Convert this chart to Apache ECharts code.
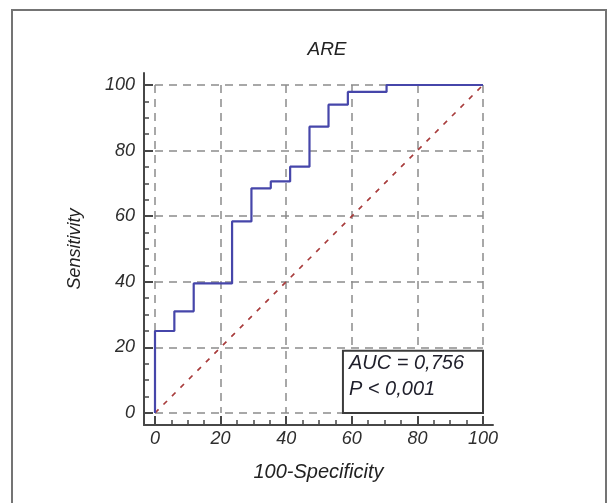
<!DOCTYPE html>
<html>
<head>
<meta charset="utf-8">
<script src="https://cdn.jsdelivr.net/npm/echarts@6/dist/echarts.min.js"></script>
<style>
html,body{margin:0;padding:0;background:#fff;}
#chart{width:607px;height:503px;}
</style>
</head>
<body>
<div id="chart"></div>
<script>
// ROC curve data (100-Specificity, Sensitivity)
const fpr = [0, 5.9, 11.8, 23.5, 29.4, 35.3, 41.2, 47.1, 52.9, 58.8, 70.6, 100];
const tpr = [0, 25, 31, 39.5, 58.4, 68.5, 70.6, 75.1, 87.3, 94, 97.9, 100];
const refX = [0, 100];
const refY = [0, 100];
const majorTicks = [0, 20, 40, 60, 80, 100];
const minorTicks = [5, 10, 15, 25, 30, 35, 45, 50, 55, 65, 70, 75, 85, 90, 95];
const chartTitle = 'ARE';
const xName = '100-Specificity';
const yName = 'Sensitivity';
const statLines = ['AUC = 0,756', 'P < 0,001'];
const boxFrom = [57.3, 0];
const boxTo = [100, 19];

const FONT = '"Liberation Sans", Arial, sans-serif';
const W = 607, H = 503;
// data plot area
const P = {left: 155, right: 124, top: 85, bottom: 90};
// axis frame (axis lines detached from plot)
const A = {left: 144, right: 114, top: 73, bottom: 78};
const pw = W - P.left - P.right, ph = H - P.top - P.bottom;
const xMin1 = -(P.left - A.left) * 100 / pw;
const xMax1 = 100 + (P.right - A.right) * 100 / pw;
const yMin1 = -(P.bottom - A.bottom) * 100 / ph;
const yMax1 = 100 + (P.top - A.top) * 100 / ph;

const chart = echarts.init(document.getElementById('chart'), null, {renderer: 'canvas'});

const rocData = fpr.map((x, i) => [x, tpr[i]]);
const refData = refX.map((x, i) => [x, refY[i]]);

const axisGray = '#474747';
const gridDash = {color: '#8c8c8c', width: 1.5, type: [8, 6]};
const labelStyle = {color: '#2e2e2e', fontSize: 18, fontStyle: 'italic', fontFamily: FONT};

chart.setOption({
  animation: false,
  backgroundColor: '#fff',
  graphic: [
    {type: 'rect', shape: {x: 12, y: 10, width: 594, height: 530}, style: {fill: 'none', stroke: '#747474', lineWidth: 2}, silent: true},
    {type: 'text', x: 327, y: 50, style: {text: chartTitle, align: 'center', verticalAlign: 'middle', font: 'italic 19px ' + FONT, fill: '#222'}}
  ],
  grid: [
    {left: P.left, right: P.right, top: P.top, bottom: P.bottom},
    {left: A.left, right: A.right, top: A.top, bottom: A.bottom}
  ],
  xAxis: [
    {
      type: 'value', gridIndex: 0, min: 0, max: 100, interval: 20,
      axisLine: {show: false, onZero: false}, axisTick: {show: false}, axisLabel: {show: false},
      splitLine: {show: true, lineStyle: gridDash}
    },
    {
      type: 'value', gridIndex: 1, min: xMin1, max: xMax1, position: 'bottom',
      axisLine: {show: true, onZero: false, lineStyle: {color: axisGray, width: 2}},
      axisTick: {show: true, inside: true, length: 9, customValues: majorTicks, lineStyle: {color: axisGray, width: 2}},
      axisLabel: Object.assign({show: true, margin: 5, customValues: majorTicks}, labelStyle),
      splitLine: {show: false},
      name: xName, nameLocation: 'middle', nameGap: 37,
      nameTextStyle: {fontSize: 20, fontStyle: 'italic', fontFamily: FONT, color: '#222'}
    },
    {
      type: 'value', gridIndex: 1, min: xMin1, max: xMax1, position: 'bottom',
      axisLine: {show: false, onZero: false},
      axisTick: {show: true, inside: true, length: 5, customValues: minorTicks, lineStyle: {color: axisGray, width: 1.5}},
      axisLabel: {show: false}, splitLine: {show: false}
    }
  ],
  yAxis: [
    {
      type: 'value', gridIndex: 0, min: 0, max: 100, interval: 20,
      axisLine: {show: false, onZero: false}, axisTick: {show: false}, axisLabel: {show: false},
      splitLine: {show: true, lineStyle: gridDash}
    },
    {
      type: 'value', gridIndex: 1, min: yMin1, max: yMax1, position: 'left',
      axisLine: {show: true, onZero: false, lineStyle: {color: axisGray, width: 2}},
      axisTick: {show: true, inside: true, length: 9, customValues: majorTicks, lineStyle: {color: axisGray, width: 2}},
      axisLabel: Object.assign({show: true, margin: 9, customValues: majorTicks}, labelStyle),
      splitLine: {show: false},
      name: yName, nameLocation: 'middle', nameGap: 60, nameRotate: 90,
      nameTextStyle: {fontSize: 18, fontStyle: 'italic', fontFamily: FONT, color: '#222'}
    },
    {
      type: 'value', gridIndex: 1, min: yMin1, max: yMax1, position: 'left',
      axisLine: {show: false, onZero: false},
      axisTick: {show: true, inside: true, length: 5, customValues: minorTicks, lineStyle: {color: axisGray, width: 1.5}},
      axisLabel: {show: false}, splitLine: {show: false}
    }
  ],
  series: [
    {
      type: 'line', xAxisIndex: 0, yAxisIndex: 0, data: refData,
      symbol: 'none', lineStyle: {color: '#a83c3c', width: 1.7, type: [5, 7]},
      z: 2,
      markArea: {
        silent: true,
        itemStyle: {color: '#fff', borderColor: '#3c3c3c', borderWidth: 2},
        label: {
          show: true, position: 'insideTopLeft', distance: 0, offset: [7, 1],
          fontSize: 20, fontStyle: 'italic', fontFamily: FONT, color: '#1e1e2a',
          lineHeight: 26
        },
        data: [[{coord: boxFrom, name: statLines.join('\n')}, {coord: boxTo}]]
      }
    },
    {
      type: 'line', xAxisIndex: 0, yAxisIndex: 0, data: rocData,
      step: 'start', symbol: 'none',
      lineStyle: {color: '#4646aa', width: 2.2}, z: 3
    }
  ]
});
</script>
</body>
</html>
